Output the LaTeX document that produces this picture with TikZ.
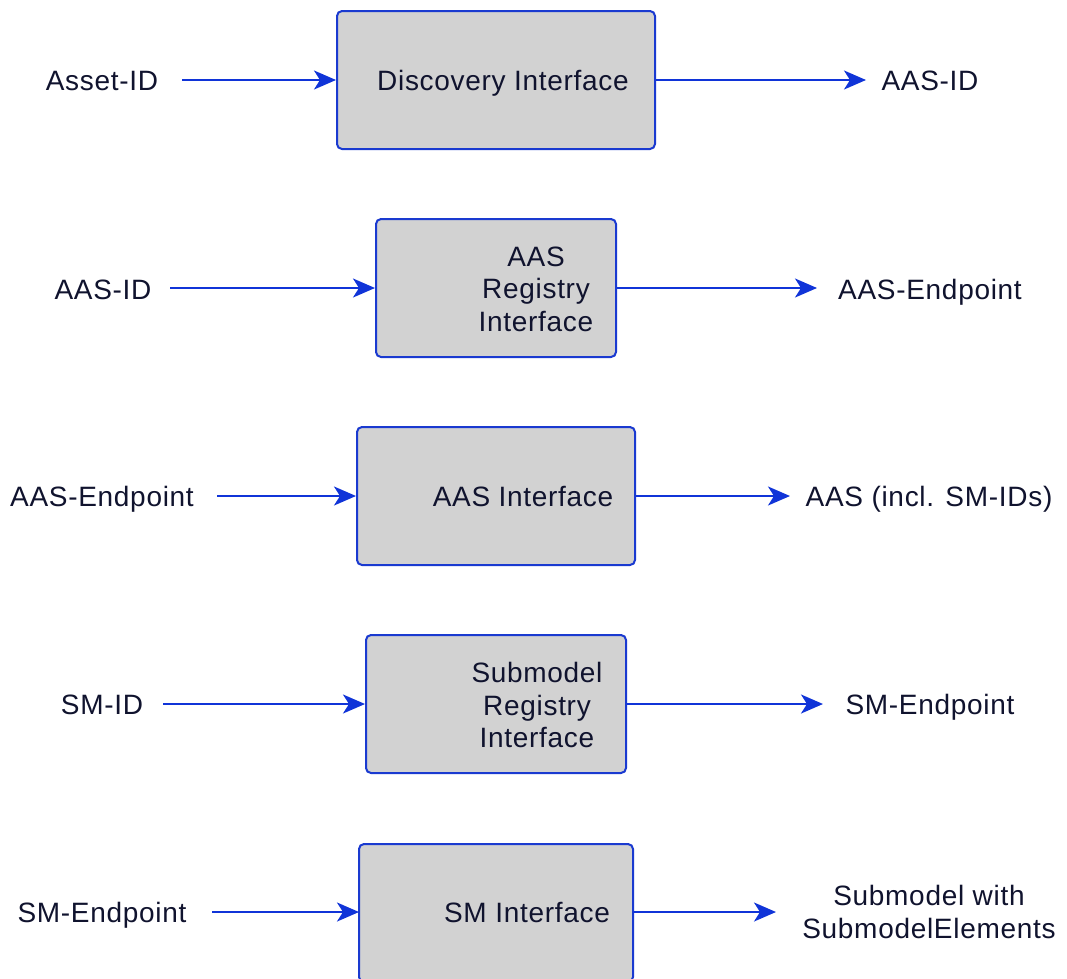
\documentclass[tikz,border=0pt]{standalone}
\usepackage{fontspec}
\setmainfont[LetterSpace=2.5]{Liberation Sans}
\usetikzlibrary{arrows.meta}
\definecolor{lineblue}{HTML}{1034D8}
\definecolor{boxblue}{HTML}{1A3AD0}
\definecolor{boxgray}{HTML}{D2D2D2}
\definecolor{txt}{HTML}{10132E}
\tikzset{
  ifbox/.style={draw=boxblue, line width=2pt, fill=boxgray, rounded corners=5pt},
  lbl/.style={text=txt, font=\fontsize{28}{32.5}\selectfont, inner sep=0pt, align=center},
  lbl1/.style={lbl, anchor=base},
  flow/.style={draw=lineblue, line width=2pt, -{Stealth[length=22pt, width=19pt, inset=6pt]}},
}
\begin{document}
\begin{tikzpicture}[x=1pt, y=-1pt]
\clip (0,0) rectangle (1067,978);
\fill[white] (0,0) rectangle (1067,978);
% row 1
\node[ifbox, minimum width=318pt, minimum height=138pt] (b1) at (496,80) {};
\node[lbl1] (t1) at (503,90) {Discovery Interface};
\node[lbl1] (i1) at (102,90) {Asset-ID};
\node[lbl1] (o1) at (930,90) {AAS-ID};
\coordinate (i1e) at (182,80);
\coordinate (o1e) at (866,80);
\draw[flow] (i1e) -- (b1.west);
\draw[flow] (b1.east) -- (o1e);
% row 2
\node[ifbox, minimum width=240pt, minimum height=138pt] (b2) at (496,288) {};
\node[lbl] (t2) at (536,289) {AAS\\Registry\\Interface};
\node[lbl1] (i2) at (103,299) {AAS-ID};
\node[lbl1] (o2) at (930,299) {AAS-Endpoint};
\coordinate (i2e) at (170,288);
\coordinate (o2e) at (817,288);
\draw[flow] (i2e) -- (b2.west);
\draw[flow] (b2.east) -- (o2e);
% row 3
\node[ifbox, minimum width=278pt, minimum height=138pt] (b3) at (496,496) {};
\node[lbl1] (t3) at (523,506) {AAS Interface};
\node[lbl1] (i3) at (102,506) {AAS-Endpoint};
\node[lbl1] (o3) at (929,506) {AAS (incl. SM-IDs)};
\coordinate (i3e) at (217,496);
\coordinate (o3e) at (790,496);
\draw[flow] (i3e) -- (b3.west);
\draw[flow] (b3.east) -- (o3e);
% row 4
\node[ifbox, minimum width=260pt, minimum height=138pt] (b4) at (496,704) {};
\node[lbl] (t4) at (537,705) {Submodel\\Registry\\Interface};
\node[lbl1] (i4) at (102,714) {SM-ID};
\node[lbl1] (o4) at (930,714) {SM-Endpoint};
\coordinate (i4e) at (163,704);
\coordinate (o4e) at (823,704);
\draw[flow] (i4e) -- (b4.west);
\draw[flow] (b4.east) -- (o4e);
% row 5
\node[ifbox, minimum width=274pt, minimum height=138pt, anchor=north] (b5) at (496,843) {};
\coordinate (b5w) at (359,912);
\coordinate (b5e) at (633,912);
\node[lbl1] (t5) at (527,922) {SM Interface};
\node[lbl1] (i5) at (102,922) {SM-Endpoint};
\node[lbl] (o5) at (929,912) {Submodel with\\SubmodelElements};
\coordinate (i5e) at (212,912);
\coordinate (o5e) at (776,912);
\draw[flow] (i5e) -- (b5w);
\draw[flow] (b5e) -- (o5e);
\end{tikzpicture}
\end{document}
